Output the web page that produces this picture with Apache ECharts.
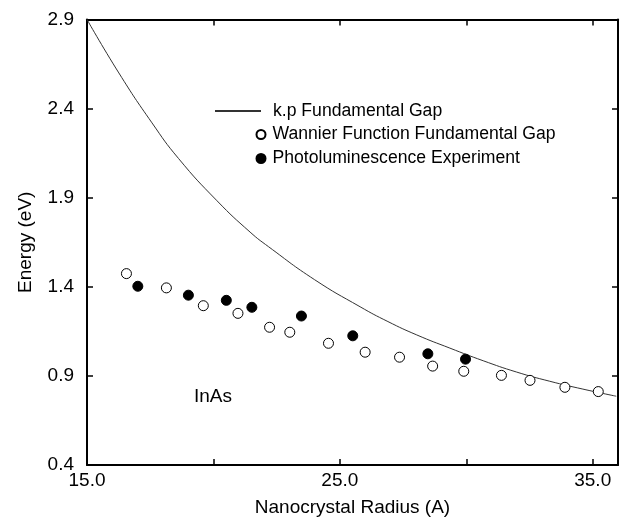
<!DOCTYPE html>
<html>
<head>
<meta charset="utf-8">
<script src="https://cdn.jsdelivr.net/npm/echarts@6/dist/echarts.min.js"></script>
<style>
  html, body { margin: 0; padding: 0; background: #fff; }
  #main { width: 632px; height: 522px; }
</style>
</head>
<body>
<div id="main"></div>
<script>
// k.p fundamental gap curve
const kpRadius = [15.0, 16.26, 17.57, 18.62, 20.14, 21.45, 22.18, 24.0, 25.8, 26.9, 28.04, 29.35, 30.67, 31.98, 33.3, 34.61, 35.93];
const kpGap = [2.9, 2.6, 2.32, 2.12, 1.883, 1.707, 1.625, 1.44, 1.288, 1.205, 1.13, 1.056, 0.985, 0.922, 0.87, 0.826, 0.786];

// Wannier function fundamental gap (open circles)
const wannierRadius = [16.56, 18.14, 19.6, 20.97, 22.22, 23.02, 24.55, 26.0, 27.36, 28.67, 29.9, 31.39, 32.52, 33.9, 35.22];
const wannierGap = [1.474, 1.394, 1.294, 1.251, 1.173, 1.145, 1.083, 1.033, 1.005, 0.955, 0.926, 0.903, 0.875, 0.836, 0.812];

// photoluminescence experiment (filled circles)
const plRadius = [17.01, 19.01, 20.51, 21.52, 23.48, 25.51, 28.48, 29.97];
const plGap = [1.403, 1.353, 1.324, 1.285, 1.236, 1.125, 1.024, 0.994];

const font = "'Liberation Sans', Arial, sans-serif";

const pairs = (xs, ys) => xs.map((x, i) => [x, ys[i]]);

const myChart = echarts.init(document.getElementById("main"));

const axisLine = { show: true, onZero: false, lineStyle: { color: "#000", width: 2 } };
const axisTick = { show: true, inside: true, length: 6, lineStyle: { color: "#000", width: 1.5 } };

const option = {
  backgroundColor: "#fff",
  animation: false,
  grid: { left: 87, right: 14, top: 19.5, bottom: 54.7 },
  legend: [
    {
      data: ["k.p Fundamental Gap"],
      left: 214, top: 102, padding: 0,
      itemWidth: 46, itemHeight: 14,
      itemStyle: { color: "transparent", borderWidth: 0 },
      textStyle: { fontFamily: font, fontSize: 17.6, color: "#000", padding: [0, 0, 0, 7] },
      selectedMode: false
    },
    {
      data: ["Wannier Function Fundamental Gap"],
      left: 255.5, top: 125.5, padding: 0,
      itemWidth: 9, itemHeight: 9,
      textStyle: { fontFamily: font, fontSize: 17.6, color: "#000", padding: [0, 0, 0, 2] },
      selectedMode: false
    },
    {
      data: ["Photoluminescence Experiment"],
      left: 255.5, top: 149.5, padding: 0,
      itemWidth: 9, itemHeight: 9,
      textStyle: { fontFamily: font, fontSize: 17.6, color: "#000", padding: [0, 0, 0, 2] },
      selectedMode: false
    }
  ],
  xAxis: [
    {
      type: "value", min: 15, max: 36, interval: 5,
      name: "Nanocrystal Radius (A)", nameLocation: "middle", nameGap: 33,
      nameTextStyle: { fontFamily: font, fontSize: 19, color: "#000" },
      axisLine, axisTick,
      axisLabel: {
        margin: 6, fontFamily: font, fontSize: 19, color: "#000",
        formatter: (v) => ((v - 15) % 10 === 0 ? v.toFixed(1) : "")
      },
      splitLine: { show: false }
    },
    {
      type: "value", position: "top", min: 15, max: 36, interval: 5,
      axisLine, axisTick,
      axisLabel: { show: false },
      splitLine: { show: false }
    }
  ],
  yAxis: [
    {
      type: "value", min: 0.4, max: 2.9, interval: 0.5,
      name: "Energy (eV)", nameLocation: "middle", nameGap: 52,
      nameTextStyle: { fontFamily: font, fontSize: 19, color: "#000" },
      axisLine, axisTick,
      axisLabel: {
        margin: 13, fontFamily: font, fontSize: 19, color: "#000",
        formatter: (v) => v.toFixed(1)
      },
      splitLine: { show: false }
    },
    {
      type: "value", position: "right", min: 0.4, max: 2.9, interval: 0.5,
      axisLine, axisTick,
      axisLabel: { show: false },
      splitLine: { show: false }
    }
  ],
  graphic: [
    {
      type: "text", left: 194, top: 387,
      style: { text: "InAs", fontFamily: font, fontSize: 19, fill: "#000" }
    }
  ],
  series: [
    {
      name: "k.p Fundamental Gap",
      type: "line",
      data: pairs(kpRadius, kpGap),
      smooth: 0.5,
      symbol: "none",
      lineStyle: { color: "#333", width: 1 },
      itemStyle: { color: "#333" },
      z: 2
    },
    {
      name: "Wannier Function Fundamental Gap",
      type: "scatter",
      data: pairs(wannierRadius, wannierGap),
      symbol: "circle",
      symbolSize: 10,
      itemStyle: { color: "#fff", borderColor: "#000", borderWidth: 1, opacity: 1 },
      z: 3
    },
    {
      name: "Photoluminescence Experiment",
      type: "scatter",
      data: pairs(plRadius, plGap),
      symbol: "circle",
      symbolSize: 10,
      itemStyle: { color: "#000", borderColor: "#000", borderWidth: 1, opacity: 1 },
      z: 3
    }
  ]
};

option && myChart.setOption(option);
</script>
</body>
</html>
